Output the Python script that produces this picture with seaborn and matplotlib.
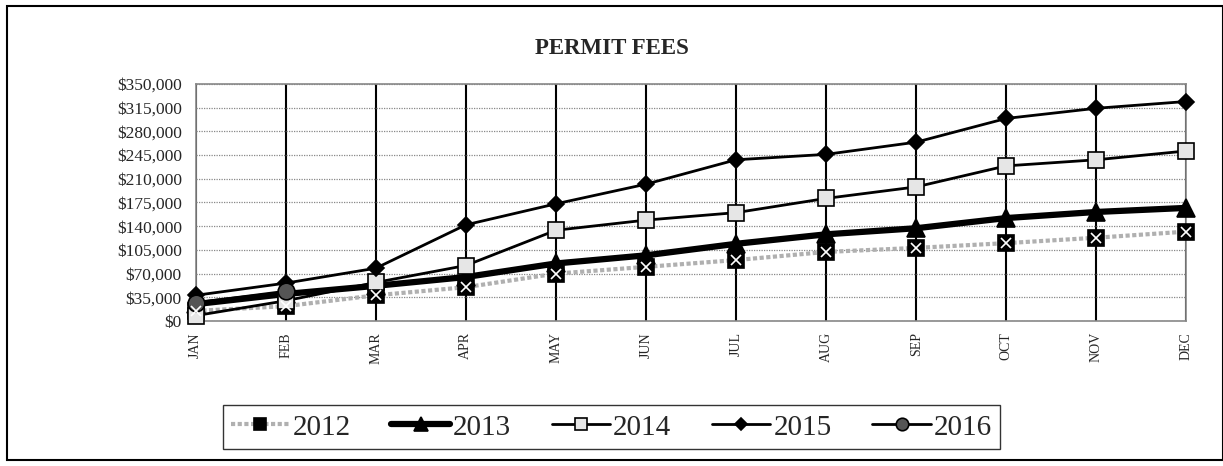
import numpy as np
import pandas as pd
import matplotlib
matplotlib.use("Agg")
import matplotlib.pyplot as plt
import seaborn as sns
from matplotlib.ticker import FuncFormatter
from matplotlib.patches import Rectangle

months = ["JAN", "FEB", "MAR", "APR", "MAY", "JUN", "JUL", "AUG", "SEP", "OCT", "NOV", "DEC"]

fees_2012 = [15000, 22000, 38000, 50000, 70000, 80000, 90000, 102000, 108000, 115000, 123000, 132000]
fees_2013 = [25000, 40000, 52000, 65000, 85000, 97000, 114000, 128000, 137000, 152000, 161000, 167000]
fees_2014 = [8000, 30000, 57000, 82000, 134000, 149000, 160000, 181000, 198000, 229000, 238000, 251000]
fees_2015 = [38000, 56000, 78000, 142000, 173000, 202000, 238000, 246000, 264000, 299000, 314000, 324000]
fees_2016 = [27000, 44000]

sns.set_style("white")
plt.rcParams['font.family'] = ['Liberation Serif', 'DejaVu Serif']

fig = plt.figure(figsize=(12.23, 4.66), dpi=100)
ax = fig.add_axes([0.160, 0.311, 0.810, 0.509])

styles = {
    "2012": dict(data=fees_2012, color="#b0b0b0", lw=3, ls=(0, (1, 0.6)), marker="s", ms=11,
                 mfc="black", mec="black"),
    "2013": dict(data=fees_2013, color="black", lw=4.5, ls="-", marker="^", ms=13,
                 mfc="black", mec="black"),
    "2014": dict(data=fees_2014, color="black", lw=2, ls="-", marker="s", ms=12,
                 mfc="#e6e6e6", mec="black"),
    "2015": dict(data=fees_2015, color="black", lw=2, ls="-", marker="D", ms=8,
                 mfc="black", mec="black"),
    "2016": dict(data=fees_2016, color="black", lw=2, ls="-", marker="o", ms=12,
                 mfc="#555555", mec="black"),
}

for year, st in styles.items():
    vals = st["data"]
    x = np.arange(len(vals))
    sns.lineplot(x=x, y=vals, ax=ax, color=st["color"], lw=st["lw"], linestyle=st["ls"],
                 marker=st["marker"], markersize=st["ms"], markerfacecolor=st["mfc"],
                 markeredgecolor=st["mec"], markeredgewidth=1.2, label=year, zorder=3,
                 clip_on=False)
    if year == "2012":
        ax.plot(x, vals, ls="none", marker="x", ms=7, mew=1.2, color="white", zorder=4,
                clip_on=False)

ax.set_xlim(0, 11)
ax.set_ylim(0, 350000)
ax.set_xticks(np.arange(12))
ax.set_xticklabels(months, rotation=90, fontsize=10)
ax.set_yticks(np.arange(0, 350001, 35000))
ax.yaxis.set_major_formatter(FuncFormatter(lambda v, p: "${:,.0f}".format(v)))
ax.tick_params(axis="y", labelsize=12.5, length=0, pad=10)
ax.tick_params(axis="x", length=0, pad=8)
ax.set_xlabel("")
ax.set_ylabel("")

ax.grid(axis="x", color="black", lw=1.5, ls="-")
ax.grid(axis="y", color="#888888", lw=0.9, ls=(0, (1, 1)))
ax.set_axisbelow(True)
for s in ax.spines.values():
    s.set_color("#888888")
    s.set_linewidth(1.2)

fig.suptitle("PERMIT FEES", x=0.5, y=0.895, va="center", fontsize=16.5, fontweight="bold")

ax.get_legend().remove()
handles, labels = ax.get_legend_handles_labels()
handles = [h for h, l in zip(handles, labels) if l in styles]
labels = [l for l in labels if l in styles]
leg = fig.legend(handles, labels, loc="center", bbox_to_anchor=(0.50, 0.083), ncol=5,
                 fontsize=21, frameon=True, fancybox=False, edgecolor="black",
                 handlelength=2.0, columnspacing=1.4, handletextpad=0.1, borderpad=0.3,
                 markerscale=0.75)
leg.get_frame().set_linewidth(1.0)

fig.patches.append(Rectangle((0.006, 0.012), 0.994, 0.975, transform=fig.transFigure,
                             fill=False, edgecolor="black", lw=1.5))

fig.savefig("out.png", dpi=100)
